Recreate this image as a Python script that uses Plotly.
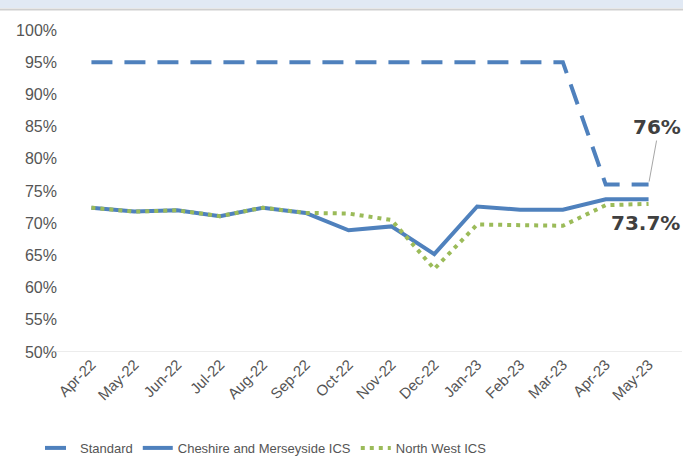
import plotly.graph_objects as go

months = ["Apr-22", "May-22", "Jun-22", "Jul-22", "Aug-22", "Sep-22", "Oct-22",
          "Nov-22", "Dec-22", "Jan-23", "Feb-23", "Mar-23", "Apr-23", "May-23"]
standard = [95, 95, 95, 95, 95, 95, 95, 95, 95, 95, 95, 95, 76, 76]
cheshire = [72.4, 71.8, 72.0, 71.1, 72.4, 71.6, 68.9, 69.5, 65.2, 72.6, 72.1, 72.1, 73.7, 73.7]
north_west = [72.4, 71.8, 72.0, 71.1, 72.4, 71.6, 71.5, 70.5, 62.9, 69.8, 69.7, 69.6, 72.8, 73.0]
yticks = [50, 55, 60, 65, 70, 75, 80, 85, 90, 95, 100]
ytick_labels = [f"{v}%" for v in yticks]

blue = "#4f81bd"
green = "#9bbb59"
txt = "#555555"

fig = go.Figure()
fig.add_trace(go.Scatter(x=months, y=standard, mode="lines", name="Standard",
                         line=dict(color=blue, width=4, dash="21px,12px")))
fig.add_trace(go.Scatter(x=months, y=cheshire, mode="lines", name="Cheshire and Merseyside ICS",
                         line=dict(color=blue, width=4)))
fig.add_trace(go.Scatter(x=months, y=north_west, mode="lines", name="North West ICS",
                         line=dict(color=green, width=4, dash="4px,5px")))

fig.add_annotation(x=months[-1], y=standard[-1], text="<b>76%</b>", showarrow=True,
                   arrowhead=0, arrowcolor="#a6a6a6", arrowwidth=1, standoff=3,
                   ax=8, ay=-44, xanchor="center", yanchor="bottom",
                   font=dict(family="DejaVu Sans", size=20, color="#404040"))
fig.add_annotation(x=months[-1], y=cheshire[-1], text="<b>73.7%</b>", showarrow=False,
                   xshift=-3, yshift=-24, font=dict(family="DejaVu Sans", size=20, color="#404040"))

# top band decoration
fig.add_shape(type="rect", xref="paper", yref="paper", x0=-0.2, x1=1.1,
              y0=1 + 22 / 322, y1=1 + 31 / 322,
              fillcolor="#e1e9f4", line_width=0, layer="above")
fig.add_shape(type="line", xref="paper", yref="paper", x0=-0.2, x1=1.1,
              y0=1 + 20.5 / 322, y1=1 + 20.5 / 322,
              line=dict(color="#cfcfcf", width=2), layer="above")

fig.update_layout(
    width=683, height=471,
    margin=dict(l=70, r=13, t=30, b=119, autoexpand=False),
    plot_bgcolor="white", paper_bgcolor="white",
    font=dict(family="Liberation Sans", color=txt, size=14),
    showlegend=True,
    legend=dict(orientation="h", x=-0.05, xanchor="left", y=-0.298, yanchor="middle",
                font=dict(size=13, color=txt), itemwidth=30, tracegroupgap=0),
)
fig.update_xaxes(showgrid=False, showline=False, tickangle=-45, ticks="",
                 range=[-0.5, 13.5], automargin=False,
                 tickfont=dict(size=15, color=txt))
fig.update_yaxes(range=[50, 100], tickvals=yticks, ticktext=ytick_labels, showgrid=False,
                 zeroline=False, showline=False, automargin=False, ticklabelstandoff=12,
                 tickfont=dict(size=16, color=txt))
fig.add_shape(type="line", xref="paper", yref="y", x0=-0.03, x1=1.02, y0=50, y1=50,
              line=dict(color="#d9d9d9", width=1))

fig.write_html("out.html", config={"displayModeBar": False},
               post_script="document.body.style.margin='0';")
